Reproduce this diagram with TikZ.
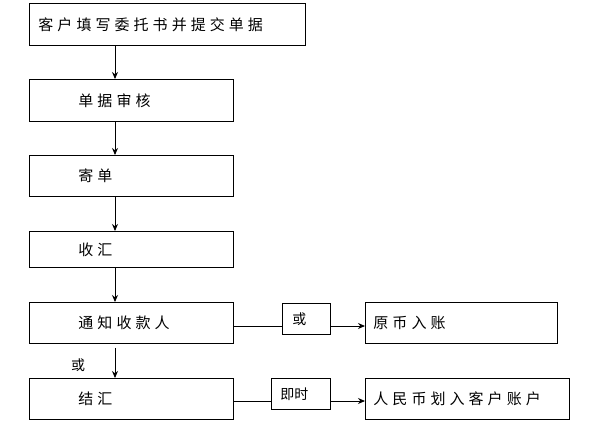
\documentclass[tikz,border=0pt]{standalone}
\usepackage{fontspec}
\usetikzlibrary{arrows.meta}
\newfontfamily\cjk{Noto Sans CJK SC}
\newfontfamily\cjksp[LetterSpace=27]{Noto Sans CJK SC}
\begin{document}
\begin{tikzpicture}[x=1pt, y=-1pt, >={Stealth[length=7pt, width=6pt]}, line width=0.9pt,
    every node/.style={font=\cjksp\fontsize{15pt}{17pt}\selectfont},
    box/.style={draw, anchor=north west, align=left, inner xsep=49pt, text width=106pt, minimum height=41pt},
    tag/.style={draw, anchor=north west, align=left, minimum height=31pt, font=\cjk\fontsize{14pt}{16pt}\selectfont}]
    \useasboundingbox (0,0) rectangle (608,440);
    \node[box, inner xsep=9pt, text width=258pt, minimum height=42pt] (fill) at (29,3) {客户填写委托书并提交单据};
    \node[box, minimum height=42pt] (check) at (29,79) {单据审核};
    \node[box] (send) at (29,155) {寄单};
    \node[box, minimum height=36pt] (recv) at (29,231) {收汇};
    \node[box] (notify) at (29,302) {通知收款人};
    \node[box] (settle) at (29,378) {结汇};
    \node[tag, inner xsep=10pt, text width=28pt] (or) at (282,303) {或};
    \node[tag, inner xsep=9pt, text width=41pt] (now) at (271,378) {即时};
    \node[box, inner xsep=8pt, text width=176pt] (orig) at (365,302) {原币入账};
    \node[box, inner xsep=8pt, text width=188pt] (rmb) at (365,378) {人民币划入客户账户};
    \node[font=\cjk\fontsize{14pt}{16pt}\selectfont] (alt) at (78,365) {或};
    \coordinate (ax) at (115,0);
    \coordinate (l1) at (0,326);
    \coordinate (l2) at (0,401);
    \draw[->] (fill.south -| ax) -- (check.north -| ax);
    \draw[->] (check.south -| ax) -- (send.north -| ax);
    \draw[->] (send.south -| ax) -- (recv.north -| ax);
    \draw[->] (recv.south -| ax) -- (notify.north -| ax);
    \draw[->] ([yshift=-4pt]notify.south -| ax) -- (settle.north -| ax);
    \draw (notify.east |- l1) -- (or.west |- l1);
    \draw[->] (or.east |- l1) -- (orig.west |- l1);
    \draw (settle.east |- l2) -- (now.west |- l2);
    \draw[->] (now.east |- l2) -- (rmb.west |- l2);
\end{tikzpicture}
\end{document}
